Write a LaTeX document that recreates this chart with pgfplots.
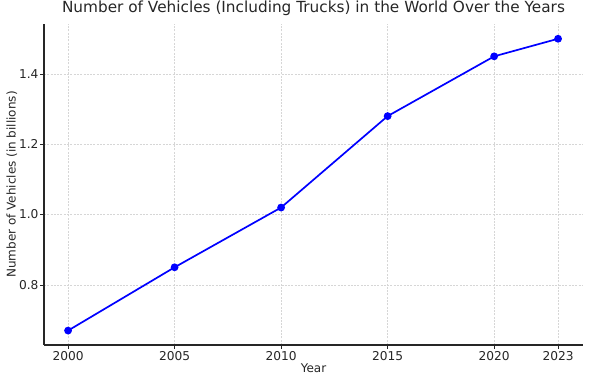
\documentclass[border=0pt]{standalone}
\usepackage{fontspec}
\setmainfont{DejaVu Sans}
\usepackage{pgfplots}
\pgfplotsset{compat=1.18}
\definecolor{txt}{HTML}{262626}
\definecolor{gridc}{HTML}{D6D6D6}
\begin{document}
\begin{tikzpicture}[x=1pt,y=1pt]
\path[use as bounding box] (-44,-37) rectangle (546,345);
\begin{axis}[
  at={(0,0)}, anchor=south west,
  scale only axis, width=539pt, height=321pt,
  xmin=1998.87, xmax=2024.17, ymin=0.629, ymax=1.542,
  axis x line*=bottom, axis y line*=left,
  axis line style={txt, line width=1.1pt},
  xtick={2000,2005,2010,2015,2020,2023},
  ytick={0.8,1.0,1.2,1.4},
  /pgf/number format/1000 sep={},
  yticklabel style={/pgf/number format/fixed, /pgf/number format/fixed zerofill, /pgf/number format/precision=1, xshift=2pt},
  xticklabel style={yshift=1.5pt},
  /pgf/number format/assume math mode=true,
  tick align=outside, tick style={txt, line width=0.7pt}, major tick length=4pt,
  ticklabel style={font=\fontsize{12.2}{14}\selectfont, text=txt},
  grid=major, major grid style={gridc, dash pattern=on 2pt off 1.3pt, line width=0.7pt},
  title={Number of Vehicles (Including Trucks) in the World Over the Years},
  title style={font=\fontsize{15.3}{18}\selectfont, text=txt, at={(axis description cs:0.5,1.0171)}, anchor=base},
  xlabel={Year}, ylabel={Number of Vehicles (in billions)},
  label style={font=\fontsize{12}{14}\selectfont, text=txt},
  xlabel style={at={(axis description cs:0.5,-0.0717)}, anchor=center},
  ylabel style={at={(axis description cs:-0.0594,0.5)}, anchor=center},
]
\addplot[blue, line width=1.7pt, mark=*, mark size=3pt, mark options={fill=blue, draw=blue}]
coordinates {(2000,0.67) (2005,0.85) (2010,1.02) (2015,1.28) (2020,1.45) (2023,1.50)};
\end{axis}
\end{tikzpicture}
\end{document}
